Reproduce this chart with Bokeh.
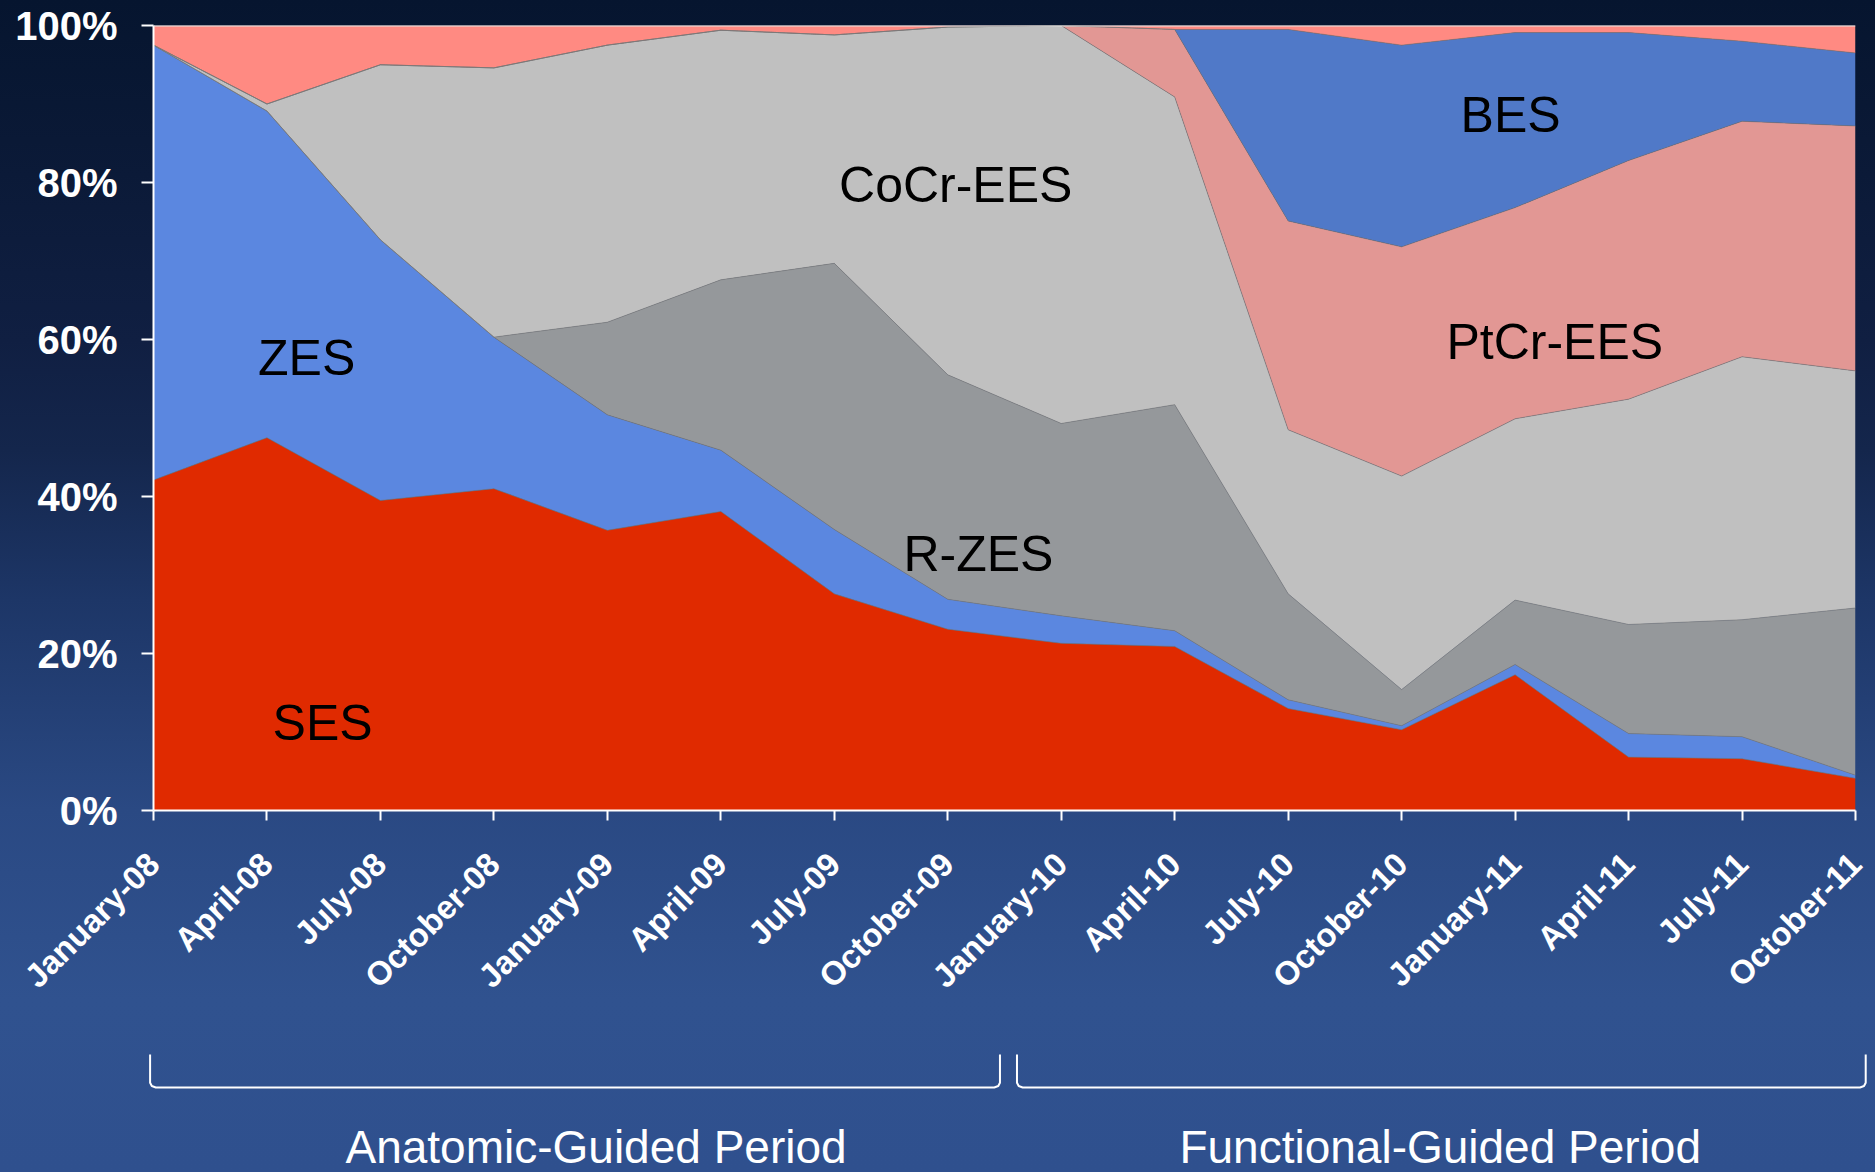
import math
from bokeh.plotting import figure
from bokeh.layouts import column
from bokeh.models import (ColumnDataSource, FixedTicker, Range1d, Label, Span,
                          PrintfTickFormatter)
from bokeh.core.properties import value
from bokeh.embed import file_html
from bokeh.resources import INLINE

# ---------------- data ----------------
months = ["January-08", "April-08", "July-08", "October-08",
          "January-09", "April-09", "July-09", "October-09",
          "January-10", "April-10", "July-10", "October-10",
          "January-11", "April-11", "July-11", "October-11"]

ses   = [42.1, 47.5, 39.5, 41.0, 35.7, 38.1, 27.6, 23.1, 21.3, 20.9, 13.0, 10.3, 17.3, 6.8, 6.6, 4.1]
zes   = [55.4, 41.6, 33.2, 19.3, 14.7, 7.8, 8.2, 3.8, 3.5, 2.0, 1.1, 0.5, 1.3, 3.0, 2.8, 0.4]
rzes  = [0.0, 0.0, 0.0, 0.0, 11.8, 21.7, 33.9, 28.6, 24.5, 28.8, 13.5, 4.6, 8.2, 13.9, 14.9, 21.3]
cocr  = [0.0, 0.9, 22.3, 34.3, 35.3, 31.8, 29.1, 44.3, 50.7, 39.2, 20.9, 27.2, 23.1, 28.7, 33.5, 30.2]
ptcr  = [0.0, 0.0, 0.0, 0.0, 0.0, 0.0, 0.0, 0.0, 0.0, 8.6, 26.6, 29.2, 26.9, 30.4, 30.0, 31.2]
bes   = [0.0, 0.0, 0.0, 0.0, 0.0, 0.0, 0.0, 0.0, 0.0, 0.0, 24.4, 25.7, 22.3, 16.3, 10.2, 9.3]
other = [2.5, 10.0, 5.0, 5.4, 2.5, 0.6, 1.2, 0.2, 0.0, 0.5, 0.5, 2.5, 0.9, 0.9, 2.0, 3.5]

series_names = ["SES", "ZES", "R-ZES", "CoCr-EES", "PtCr-EES", "BES", "Other"]
series_colors = ["#E02A00", "#5B87E0", "#95989B", "#C0C0C0", "#E29794", "#5079C8", "#FF8A82"]

y_ticks = [0, 20, 40, 60, 80, 100]
period_labels = ["Anatomic-Guided Period", "Functional-Guided Period"]

x = list(range(len(months)))
source = ColumnDataSource(dict(x=x, SES=ses, ZES=zes, **{"R-ZES": rzes, "CoCr-EES": cocr,
                                                       "PtCr-EES": ptcr}, BES=bes, Other=other))

W = 1875
H_MAIN = 1010
H_STRIP = 162
LEFT, RIGHT, TOP, FRAME_BOTTOM = 153, 20, 25, 812

# ---------------- main chart ----------------
p = figure(width=W, height=H_MAIN, output_backend="svg", toolbar_location=None,
           title=None, x_range=Range1d(0, len(months) - 1), y_range=Range1d(0, 100),
           min_border_left=LEFT, min_border_right=RIGHT, min_border_top=TOP,
           min_border_bottom=H_MAIN - FRAME_BOTTOM)
p.frame_align = False
p.border_fill_color = None
p.background_fill_color = None
p.outline_line_color = None
p.xgrid.visible = False
p.ygrid.visible = False

p.varea_stack(stackers=series_names, x="x", color=series_colors, source=source)
p.vline_stack(stackers=series_names, x="x", source=source,
              line_color="#7a7a7a", line_width=1, line_alpha=0.6)

p.add_layout(Span(location=100, dimension="width", line_color="#E8E8E8", line_width=2))

xa = p.xaxis[0]
xa.ticker = FixedTicker(ticks=x)
xa.major_label_overrides = {i: m for i, m in enumerate(months)}
xa.major_label_orientation = math.pi / 4
xa.major_label_text_font = "Liberation Sans"
xa.major_label_text_font_style = "bold"
xa.major_label_text_font_size = "33px"
xa.major_label_text_color = "white"
xa.major_label_standoff = 38
xa.axis_line_color = "white"
xa.axis_line_width = 2
xa.major_tick_line_color = "white"
xa.major_tick_line_width = 2
xa.major_tick_out = 10
xa.major_tick_in = 0
xa.minor_tick_line_color = None

ya = p.yaxis[0]
ya.ticker = FixedTicker(ticks=y_ticks)
ya.formatter = PrintfTickFormatter(format="%d%%")
ya.major_label_text_font = "Liberation Sans"
ya.major_label_text_font_style = "bold"
ya.major_label_text_font_size = "40px"
ya.major_label_text_color = "white"
ya.major_label_standoff = 24
ya.axis_line_color = "white"
ya.axis_line_width = 2
ya.major_tick_line_color = "white"
ya.major_tick_line_width = 2
ya.major_tick_out = 12
ya.major_tick_in = 0
ya.minor_tick_line_color = None

label_pos = {"SES": (1.49, 11.1), "ZES": (1.35, 57.7), "R-ZES": (7.27, 32.7),
             "CoCr-EES": (7.07, 79.7), "PtCr-EES": (12.35, 59.7), "BES": (11.96, 88.6)}
for name, (lx, ly) in label_pos.items():
    p.add_layout(Label(x=lx, y=ly, text=name, text_align="center", text_baseline="middle",
                       text_font="Liberation Sans", text_font_size="50px", text_color="black"))

# ---------------- period strip below (same x/percent scale as the chart) ----------------
px_per_x = (W - LEFT - RIGHT) / (len(months) - 1)
px_per_pct = (FRAME_BOTTOM - TOP) / 100
x0 = -LEFT / px_per_x
x1 = (W - LEFT) / px_per_x
ytop = (FRAME_BOTTOM - H_MAIN) / px_per_pct
ybot = (FRAME_BOTTOM - H_MAIN - H_STRIP) / px_per_pct

p2 = figure(width=W, height=H_STRIP, output_backend="svg", toolbar_location=None, title=None,
            x_range=Range1d(x0, x1), y_range=Range1d(ybot, ytop),
            min_border=0, min_border_left=0, min_border_right=0,
            min_border_top=0, min_border_bottom=0, x_axis_location=None, y_axis_location=None)
p2.frame_align = False
p2.grid.visible = False
p2.border_fill_color = None
p2.background_fill_color = None
p2.outline_line_color = None

brackets = [(-0.03, 7.46), (7.61, 15.09)]
btop, bbot = -30.75, -34.94
rx, ry = 0.05, 0.6
xs, ys = [], []
for bx0, bx1 in brackets:
    xs.append([bx0, bx0, bx0 + rx * 0.3, bx0 + rx, bx1 - rx, bx1 - rx * 0.3, bx1, bx1])
    ys.append([btop, bbot + ry, bbot + ry * 0.3, bbot, bbot, bbot + ry * 0.3, bbot + ry, btop])
p2.multi_line(xs=xs, ys=ys, line_color="white", line_width=2)

p2.text(x=[3.90, 11.34], y=[-42.5, -42.5], text=period_labels,
        text_align="center", text_baseline="middle", text_font=value("Liberation Sans"),
        text_font_size="46px", text_color="white")

layout = column(p, p2, spacing=0)
layout.styles = {"background": "linear-gradient(180deg, #06152F 0%, #0A1936 12%, #101F42 29%, "
                               "#14264C 38.4%, #1D3667 51.2%, #2A4983 69.1%, #30528F 85.3%, #2F508E 100%)"}

open("out.html", "w").write(file_html(layout, INLINE))
